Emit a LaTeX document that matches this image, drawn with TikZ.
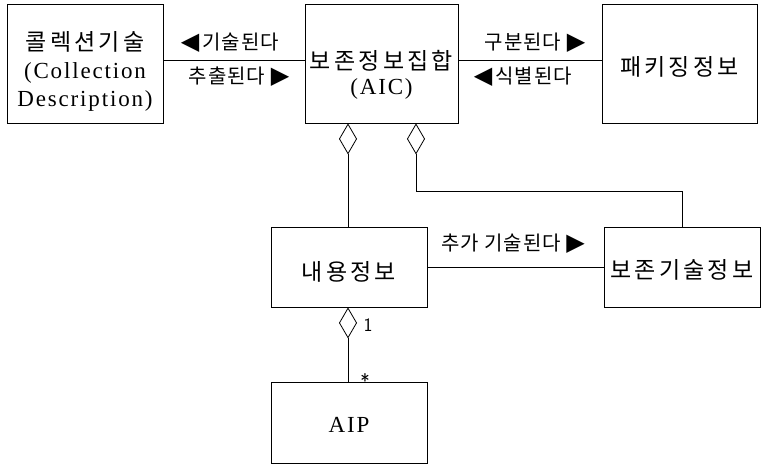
\documentclass[tikz,border=0pt]{standalone}
\usepackage{fontspec}
\setmainfont{Liberation Serif}[LetterSpace=8]
\newfontfamily\kr{Noto Sans CJK KR}
\newfontfamily\krs{Noto Sans CJK KR}[LetterSpace=14]
\newfontfamily\krl{Noto Sans CJK KR}[LetterSpace=5]
\newfontfamily\sym{DejaVu Sans}
\newcommand\lefttri{{\sym\fontsize{24}{24}\selectfont ◀}\kern3pt}
\newcommand\righttri{{\sym\fontsize{24}{24}\selectfont ▶}}
\usetikzlibrary{arrows.meta}
\begin{document}
\begin{tikzpicture}[x=1pt,y=-1pt,
  box/.style={draw,line width=0.8pt,rectangle,inner sep=0pt},
  boxtext/.style={align=center,inner sep=0pt,font=\fontsize{23}{28}\selectfont},
  rel/.style={inner sep=0pt,font=\krl\fontsize{20}{22}\selectfont},
  mult/.style={inner sep=0pt,font=\sffamily\fontsize{19}{20}\selectfont},
  link/.style={line width=0.8pt},
  agg/.style={line width=0.8pt,-{Diamond[fill=white,length=31pt,width=18pt,line width=0.8pt]}}]
\useasboundingbox (0,0) rectangle (763,464);
% boxes
\node[box,minimum width=156,minimum height=119] (b1) at (85,63.5) {};
\node[box,minimum width=153,minimum height=119] (b2) at (381.5,63.5) {};
\node[box,minimum width=155,minimum height=119] (b3) at (679.5,63.5) {};
\node[box,minimum width=156,minimum height=80] (b4) at (349,267) {};
\node[box,minimum width=156,minimum height=80] (b5) at (682,267) {};
\node[box,minimum width=156,minimum height=81] (b6) at (349,422.5) {};
% box texts
\node[boxtext] (t1) at ([yshift=-7.5pt]b1.center) {{\krs 콜렉션기술}\\(Collection\\Description)};
\node[boxtext,font=\fontsize{23}{25}\selectfont] (t2) at ([yshift=-11pt]b2.center) {{\krs 보존정보집합}\\(AIC)};
\node[boxtext] (t3) at ([yshift=-3.5pt]b3.center) {\krs 패키징정보};
\node[boxtext] (t4) at ([yshift=-5pt]b4.center) {\krs 내용정보};
\node[boxtext] (t5) at ([yshift=-3pt]b5.center) {\krs 보존기술정보};
\node[boxtext] (t6) at ([yshift=-2.5pt]b6.center) {AIP};
% connectors
\draw[link] ([yshift=3.5pt]b1.east) -- ([yshift=3.5pt]b2.west);
\draw[link] ([yshift=3.5pt]b2.east) -- ([yshift=3.5pt]b3.west);
\draw[link] (b4.east) -- (b5.west);
\coordinate (k) at (416,191);
\draw[agg] ([xshift=-1pt]b4.north) -- ([xshift=-1pt]b4.north |- b2.south);
\draw[agg] (b5.north) |- (k) -- (k |- b2.south);
\draw[agg] ([xshift=-1pt]b6.north) -- ([xshift=-1pt]b6.north |- b4.south);
% relation labels
\node[rel] (l1) at (230,43) {\lefttri 기술된다};
\node[rel] (l2) at (239,77) {추출된다 \righttri};
\node[rel] (l3) at (535,43) {구분된다 \righttri};
\node[rel] (l4) at (523,77) {\lefttri 식별된다};
\node[rel] (l5) at (513,244) {추가 기술된다 \righttri};
\node[mult] (m1) at (368,325) {1};
\node[mult,font=\sffamily\fontsize{20}{20}\selectfont] (m2) at (365,381) {*};
\end{tikzpicture}
\end{document}
